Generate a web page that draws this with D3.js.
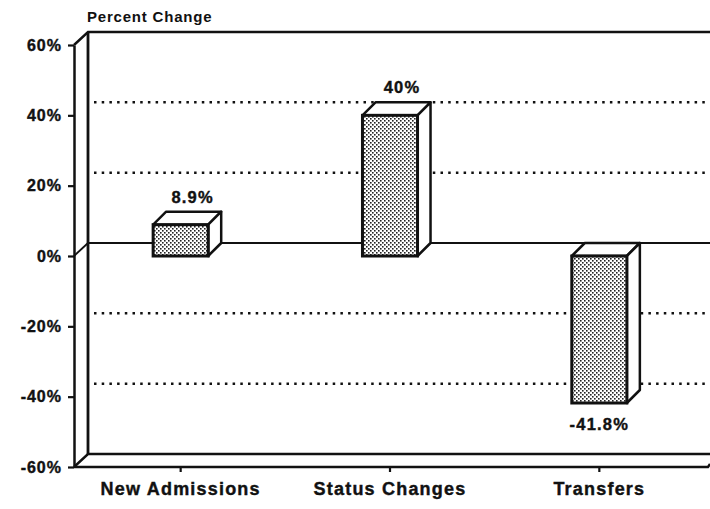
<!DOCTYPE html>
<html>
<head>
<meta charset="utf-8">
<script src="https://cdn.jsdelivr.net/npm/d3@7"></script>
<style>
  body { margin: 0; background: #fff; }
  svg text { font-family: "Liberation Sans", Arial, sans-serif; font-weight: bold; fill: #111; }
</style>
</head>
<body>
<div id="chart"></div>
<script>
// chart values
const categories = ['New Admissions', 'Status Changes', 'Transfers'];
const values = [8.9, 40, -41.8];
const valueLabels = ['8.9%', '40%', '-41.8%'];
const yTicks = [-60, -40, -20, 0, 20, 40, 60];
const gridValues = [-40, -20, 20, 40];
const axisTitle = 'Percent Change';

var width = 710, height = 509;
var left = 74, right = 708;
// depth offset of the back wall and of the bars
var wallDx = 14, wallDy = -13;
var barDx = 13, barDy = -13;

let svg = d3.select('#chart')
  .append('svg')
  .attr('width', width)
  .attr('height', height);

// stipple fill of the bar fronts
let pattern = svg.append('defs')
  .append('pattern')
  .attr('id', 'stipple')
  .attr('patternUnits', 'userSpaceOnUse')
  .attr('width', 4)
  .attr('height', 4);
pattern.append('rect').attr('width', 4).attr('height', 4).attr('fill', '#fff');
pattern.append('rect').attr('x', 0).attr('y', 0).attr('width', 1.6).attr('height', 1.6).attr('fill', '#222');
pattern.append('rect').attr('x', 2).attr('y', 2).attr('width', 1.6).attr('height', 1.6).attr('fill', '#222');

var y = d3.scaleLinear().domain([-60, 60]).range([467, 45]);
var x = d3.scaleBand()
  .domain(categories)
  .range([76, 704])
  .paddingInner(0.737)
  .paddingOuter(0.737 / 2);

var backX = left + wallDx;

// back wall: dotted gridlines
svg.append('g')
  .selectAll('line')
  .data(gridValues)
  .enter()
  .append('line')
  .attr('x1', backX + 6)
  .attr('x2', width)
  .attr('y1', d => y(d) + wallDy)
  .attr('y2', d => y(d) + wallDy)
  .attr('stroke', '#111')
  .attr('stroke-width', 2.5)
  .attr('stroke-dasharray', '2.5 5.2');

// zero line on the back wall
svg.append('line')
  .attr('x1', backX).attr('x2', width)
  .attr('y1', y(0) + wallDy).attr('y2', y(0) + wallDy)
  .attr('stroke', '#111').attr('stroke-width', 2.2);
svg.append('line')
  .attr('x1', left).attr('x2', backX)
  .attr('y1', y(0)).attr('y2', y(0) + wallDy)
  .attr('stroke', '#111').attr('stroke-width', 1.8);

// back wall frame: top, back vertical, back floor edge
svg.append('path')
  .attr('d', 'M' + left + ',' + y(60) + 'L' + backX + ',' + (y(60) + wallDy) + 'L' + width + ',' + (y(60) + wallDy))
  .attr('fill', 'none').attr('stroke', '#111').attr('stroke-width', 2.4);
svg.append('line')
  .attr('x1', backX).attr('x2', backX)
  .attr('y1', y(60) + wallDy).attr('y2', y(-60) + wallDy)
  .attr('stroke', '#111').attr('stroke-width', 2.8);
svg.append('path')
  .attr('d', 'M' + left + ',' + y(-60) + 'L' + backX + ',' + (y(-60) + wallDy) + 'L' + width + ',' + (y(-60) + wallDy))
  .attr('fill', 'none').attr('stroke', '#111').attr('stroke-width', 2.4);
// front floor edge
svg.append('path')
  .attr('d', 'M' + left + ',' + y(-60) + 'L' + right + ',' + y(-60) + 'L' + width + ',' + (y(-60) - 3))
  .attr('fill', 'none').attr('stroke', '#111').attr('stroke-width', 2.4);

// bars with top and side faces
let bars = svg.append('g')
  .selectAll('g')
  .data(values)
  .enter()
  .append('g');

let bx0 = (d, i) => x(categories[i]);
let bx1 = (d, i) => x(categories[i]) + x.bandwidth();
let yTop = d => y(Math.max(0, d));
let yBot = d => y(Math.min(0, d));

bars.append('path')
  .attr('d', (d, i) => 'M' + bx0(d, i) + ',' + yTop(d) +
    'L' + (bx0(d, i) + barDx) + ',' + (yTop(d) + barDy) +
    'L' + (bx1(d, i) + barDx) + ',' + (yTop(d) + barDy) +
    'L' + bx1(d, i) + ',' + yTop(d) + 'Z')
  .attr('fill', '#fff').attr('stroke', '#111').attr('stroke-width', 2.5).attr('stroke-linejoin', 'round');
bars.append('path')
  .attr('d', (d, i) => 'M' + bx1(d, i) + ',' + yTop(d) +
    'L' + (bx1(d, i) + barDx) + ',' + (yTop(d) + barDy) +
    'L' + (bx1(d, i) + barDx) + ',' + (yBot(d) + barDy) +
    'L' + bx1(d, i) + ',' + yBot(d) + 'Z')
  .attr('fill', '#fff').attr('stroke', '#111').attr('stroke-width', 2.5).attr('stroke-linejoin', 'round');
bars.append('rect')
  .attr('x', (d, i) => bx0(d, i))
  .attr('y', d => yTop(d))
  .attr('width', x.bandwidth())
  .attr('height', d => yBot(d) - yTop(d))
  .attr('fill', 'url(#stipple)')
  .attr('stroke', '#111')
  .attr('stroke-width', 3);

// value labels
bars.append('text')
  .attr('x', (d, i) => x(categories[i]) + x.bandwidth() / 2 + (d >= 0 ? 12 : 0))
  .attr('y', d => d >= 0 ? y(d) - 22 : y(d) + 27)
  .attr('text-anchor', 'middle')
  .style('font-size', '16.5px')
  .style('letter-spacing', '1.2px')
  .style('stroke', '#111')
  .style('stroke-width', '0.4px')
  .text((d, i) => valueLabels[i]);

// front y axis
let yAxis = d3.axisLeft(y)
  .tickValues(yTicks)
  .tickFormat(d => d + '%')
  .tickSize(6)
  .tickSizeOuter(0)
  .tickPadding(6);
let yG = svg.append('g')
  .attr('transform', 'translate(' + left + ',0)')
  .call(yAxis);
yG.select('.domain').attr('stroke', '#111').attr('stroke-width', 2.5);
yG.selectAll('.tick line').attr('stroke', '#111').attr('stroke-width', 2.2);
yG.selectAll('.tick text')
  .attr('fill', '#111')
  .style('font-size', '16px')
  .style('font-family', '"Liberation Sans", Arial, sans-serif')
  .style('font-weight', 'bold')
  .style('letter-spacing', '1px')
  .style('stroke', '#111')
  .style('stroke-width', '0.4px');

// category axis on the front floor
let xAxis = d3.axisBottom(x).tickSize(5).tickPadding(10);
let xG = svg.append('g')
  .attr('transform', 'translate(0,' + y(-60) + ')')
  .call(xAxis);
xG.select('.domain').remove();
xG.selectAll('.tick line').attr('stroke', '#111').attr('stroke-width', 2.2);
xG.selectAll('.tick text')
  .attr('fill', '#111')
  .style('font-size', '18px')
  .style('font-family', '"Liberation Sans", Arial, sans-serif')
  .style('font-weight', 'bold')
  .style('letter-spacing', '1.2px')
  .style('stroke', '#111')
  .style('stroke-width', '0.4px');

// axis title
svg.append('text')
  .attr('x', backX - 1)
  .attr('y', 22)
  .style('font-size', '15px')
  .style('letter-spacing', '0.8px')
  .text(axisTitle);
</script>
</body>
</html>
